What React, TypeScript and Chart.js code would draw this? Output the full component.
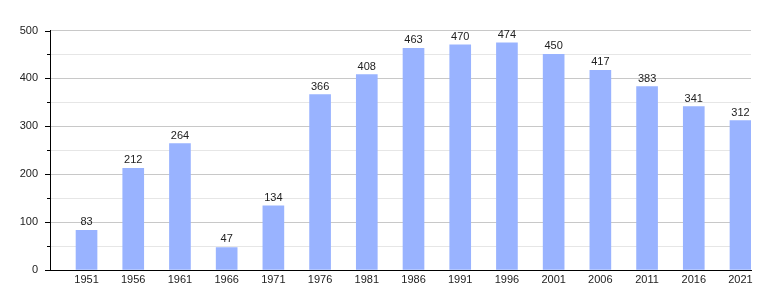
import React, { useEffect, useRef } from "react";
import { Chart, registerables } from "chart.js";

Chart.register(...registerables);

const years: string[] = ["1951", "1956", "1961", "1966", "1971", "1976", "1981", "1986", "1991", "1996", "2001", "2006", "2011", "2016", "2021"];
const population: number[] = [83, 212, 264, 47, 134, 366, 408, 463, 470, 474, 450, 417, 383, 341, 312];
const yMax = 500;
const yStep = 50;

const FONT = "'Liberation Sans', Arial, sans-serif";

const valueLabels = {
  id: "valueLabels",
  afterDatasetsDraw(chart: any) {
    const ctx = chart.ctx;
    const meta = chart.getDatasetMeta(0);
    ctx.save();
    ctx.fillStyle = "#222";
    ctx.font = `11px ${FONT}`;
    ctx.textAlign = "center";
    ctx.textBaseline = "alphabetic";
    meta.data.forEach((el: any, i: number) => {
      ctx.fillText(String(population[i]), el.x, el.y - 5);
    });
    ctx.restore();
  },
};

const yTickMarks = {
  id: "yTickMarks",
  afterDraw(chart: any) {
    const ctx = chart.ctx;
    const y = chart.scales.y;
    const left = chart.chartArea.left;
    ctx.save();
    ctx.strokeStyle = "#000";
    ctx.lineWidth = 1;
    y.ticks.forEach((t: any) => {
      const py = Math.round(y.getPixelForValue(t.value)) + 0.5;
      const len = t.value % 100 === 0 ? 5 : 3;
      ctx.beginPath();
      ctx.moveTo(left - len, py);
      ctx.lineTo(left, py);
      ctx.stroke();
    });
    ctx.restore();
  },
};

export default function App() {
  const ref = useRef<HTMLCanvasElement>(null);
  useEffect(() => {
    if (!ref.current) return;
    const chart = new Chart(ref.current, {
      type: "bar",
      data: {
        datasets: [
          {
            data: population.map((v, i) => ({ x: i, y: v })),
            backgroundColor: "#99b3ff",
            borderWidth: 0,
            barThickness: 21,
          },
        ],
      },
      options: {
        responsive: false,
        animation: false,
        layout: { padding: { top: 30.5, right: 29, left: 0, bottom: 0 } },
        plugins: { legend: { display: false }, tooltip: { enabled: false } },
        scales: {
          x: {
            type: "linear",
            offset: false,
            min: -0.782,
            max: 14.225,
            afterBuildTicks: (s: any) => {
              s.ticks = years.map((_, i) => ({ value: i }));
            },
            afterFit: (s: any) => {
              s.height = 30;
            },
            ticks: {
              autoSkip: false,
              maxRotation: 0,
              padding: 3,
              color: "#222",
              font: { family: FONT, size: 11 },
              callback: (v: any) => years[Math.round(Number(v))] ?? "",
            },
            grid: { display: false, drawTicks: false, offset: false },
            border: { display: true, color: "#000", width: 1 },
          },
          y: {
            min: 0,
            max: yMax,
            afterFit: (s: any) => {
              s.width = 50;
            },
            ticks: {
              stepSize: yStep,
              padding: 12,
              color: "#222",
              font: { family: FONT, size: 11 },
              callback: (v: any) => (Number(v) % 100 === 0 ? String(v) : ""),
            },
            grid: {
              drawTicks: false,
              color: (c: any) => (c.tick && c.tick.value % 100 === 0 ? "#c8c8c8" : "#e6e6e6"),
            },
            border: { display: true, color: "#000", width: 1 },
          },
        },
      },
      plugins: [valueLabels, yTickMarks],
    });
    return () => chart.destroy();
  }, []);
  return (
    <div style={{ position: "fixed", left: 0, top: 0, width: 780, height: 300, background: "#fff" }}>
      <canvas ref={ref} width={780} height={300} />
    </div>
  );
}
